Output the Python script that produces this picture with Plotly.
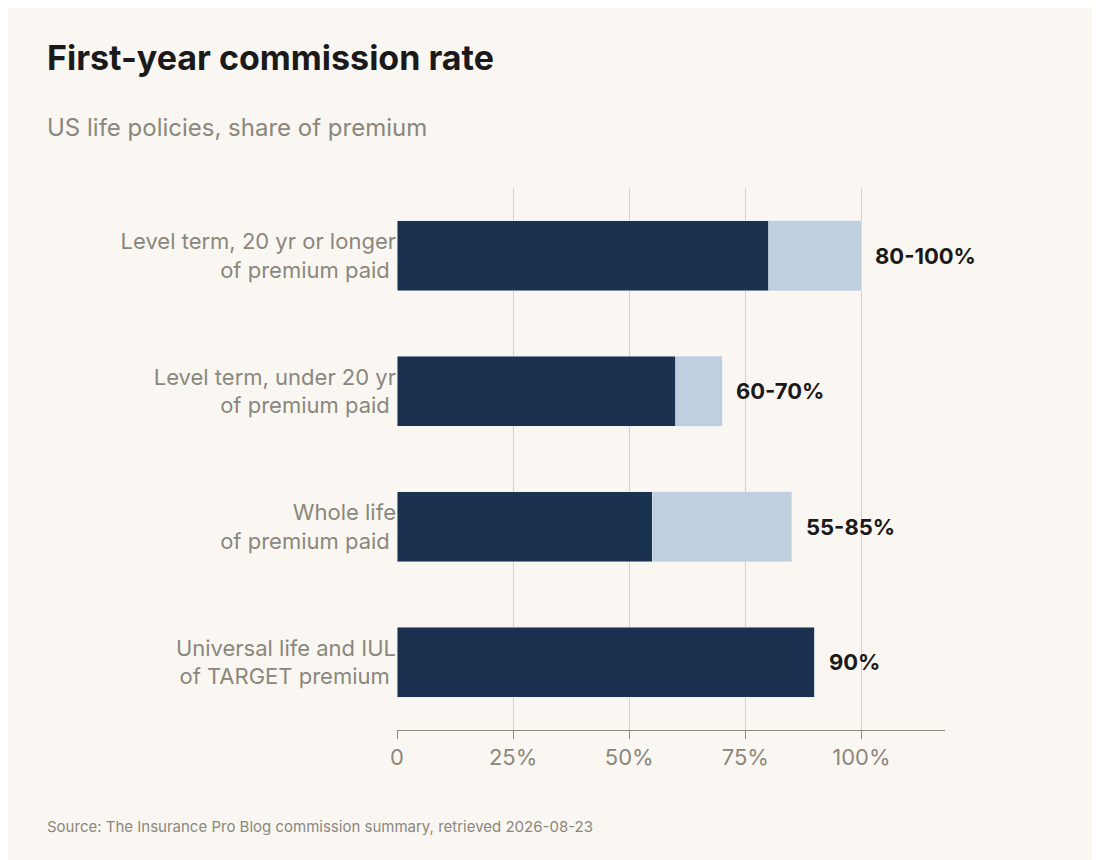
import plotly.graph_objects as go

categories = ["Level term, 20 yr or longer<br>of premium paid",
              "Level term, under 20 yr<br>of premium paid",
              "Whole life<br>of premium paid",
              "Universal life and IUL<br>of TARGET premium"]
low = [80, 60, 55, 90]
high = [100, 70, 85, 90]
labels = ["80-100%", "60-70%", "55-85%", "90%"]
tick_vals = [0, 25, 50, 75, 100]
tick_text = ["0", "25%", "50%", "75%", "100%"]

extra = [h - l for h, l in zip(high, low)]

fig = go.Figure()
fig.add_trace(go.Bar(y=categories, x=low, orientation="h", marker_color="#1a3150",
                     width=0.52, hoverinfo="skip"))
fig.add_trace(go.Bar(y=categories, x=extra, orientation="h", marker_color="#bfcfdf",
                     width=0.52, hoverinfo="skip"))

for c, h, t in zip(categories, high, labels):
    fig.add_annotation(x=h, y=c, text="<b>" + t + "</b>", showarrow=False, xanchor="left",
                       xshift=12, font=dict(size=22, color="#1a1a1a", family="Inter"))

fig.add_annotation(text="<b>First-year commission rate</b>", xref="paper", yref="paper",
                   x=-352/548, y=1 + 130/542, xanchor="left", yanchor="middle", showarrow=False,
                   font=dict(size=34, color="#1a1a1a", family="Inter"))
fig.add_annotation(text="US life policies, share of premium", xref="paper", yref="paper",
                   x=-352/548, y=1 + 61/542, xanchor="left", yanchor="middle", showarrow=False,
                   font=dict(size=24, color="#8a877c", family="Inter"))
fig.add_annotation(text="Source: The Insurance Pro Blog commission summary, retrieved 2026-08-23",
                   xref="paper", yref="paper", x=-352/548, y=-96/542, xanchor="left",
                   yanchor="middle", showarrow=False,
                   font=dict(size=15, color="#8a877c", family="Inter"))

fig.update_layout(
    barmode="stack", showlegend=False, width=1100, height=860,
    paper_bgcolor="#faf7f2", plot_bgcolor="#faf7f2",
    margin=dict(l=389, r=163, t=180, b=138),
    xaxis=dict(range=[0, 118], tickvals=tick_vals, ticktext=tick_text,
               showgrid=True, gridcolor="#d3d0c9", gridwidth=1, zeroline=False,
               showline=True, linecolor="#8a877c", ticks="outside", ticklen=8,
               tickcolor="#8a877c",
               tickfont=dict(size=22, color="#8a877c", family="Inter")),
    yaxis=dict(autorange="reversed", tickfont=dict(size=22, color="#8a877c", family="Inter"),
               ticksuffix=" ", showgrid=False),
    font=dict(family="Inter"),
)
fig.write_html("out.html")
